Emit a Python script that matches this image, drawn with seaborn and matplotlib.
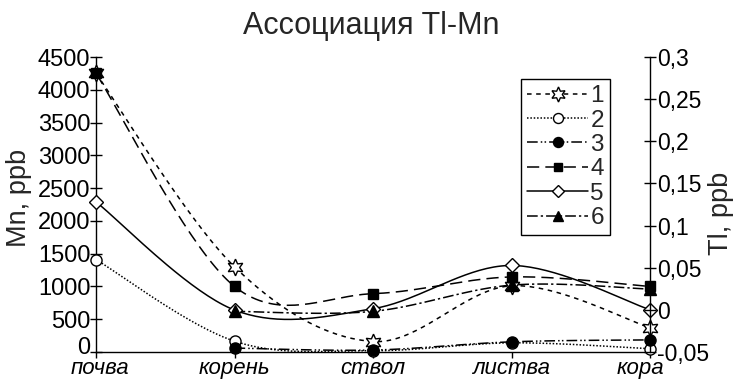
import numpy as np
import matplotlib
matplotlib.use("Agg")
import matplotlib.pyplot as plt
import matplotlib.transforms as mtrans
import seaborn as sns
from matplotlib.lines import Line2D

# ---- data ----
categories = ["почва", "корень", "ствол", "листва", "кора"]
s1 = [4250, 1300, 160, 1010, 370]
s2 = [1410, 165, 20, 140, 50]
s3 = [np.nan, 60, 30, 155, 185]
s4 = [4250, 1000, 890, 1145, 1000]
s5 = [2290, 640, 660, 1320, 645]
s6 = [np.nan, 620, 620, 1020, 960]
series_labels = ["1", "2", "3", "4", "5", "6"]
mn_ticks = [0, 500, 1000, 1500, 2000, 2500, 3000, 3500, 4000, 4500]
tl_ticks = [-0.05, 0, 0.05, 0.1, 0.15, 0.2, 0.25, 0.3]
tl_labels = ["-0,05", "0", "0,05", "0,1", "0,15", "0,2", "0,25", "0,3"]

sns.set_theme(style="ticks")
plt.rcParams['font.family'] = ['Liberation Sans', 'DejaVu Sans']


def smooth(xv, yv, n=40):
    """Excel-like smoothed line (Bezier through points)."""
    xv = np.asarray(xv, float); yv = np.asarray(yv, float)
    m = ~np.isnan(yv)
    xv, yv = xv[m], yv[m]
    P = np.column_stack([xv, yv])
    k = len(P)
    out = []
    t = np.linspace(0, 1, n)[:, None]
    for i in range(k - 1):
        p0 = P[i - 1] if i > 0 else P[i]
        p1 = P[i]
        p2 = P[i + 1]
        p3 = P[i + 2] if i + 2 < k else P[i + 1]
        c1 = p1 + (p2 - p0) / 6.0
        c2 = p2 - (p3 - p1) / 6.0
        seg = ((1 - t) ** 3) * p1 + 3 * ((1 - t) ** 2) * t * c1 + 3 * (1 - t) * t ** 2 * c2 + t ** 3 * p2
        if i > 0:
            seg = seg[1:]
        out.append(seg)
    out = np.vstack(out)
    return out[:, 0], out[:, 1]


W, H = 746, 383
fig = plt.figure(figsize=(W / 100, H / 100), dpi=100)
ax = fig.add_axes([96 / W, 1 - 352 / H, (650 - 96) / W, (352 - 57) / H])
ax.set_facecolor("white")
fig.patch.set_facecolor("white")

xpos = np.arange(len(categories))
styles = [
    dict(ls=(0, (3, 3)), marker=(6, 1, 0), mfc="white", ms=12),
    dict(ls=(0, (1, 1.2)), marker="o", mfc="white", ms=8),
    dict(ls=(0, (7, 2, 1, 1.5, 1, 2)), marker="o", mfc="black", ms=8),
    dict(ls=(0, (8, 4)), marker="s", mfc="black", ms=7),
    dict(ls="-", marker="D", mfc="white", ms=7),
    dict(ls=(0, (7, 2, 1.5, 2)), marker="^", mfc="black", ms=8),
]
data = [s1, s2, s3, s4, s5, s6]
lw = 1.1
for vals, st in zip(data, styles):
    xs, ys = smooth(xpos, vals)
    sns.lineplot(x=xs, y=ys, ax=ax, color="black", linewidth=lw, linestyle=st["ls"],
                 sort=False, estimator=None, errorbar=None)
    ax.plot(xpos, vals, linestyle="none", marker=st["marker"], mfc=st["mfc"],
            mec="black", ms=st["ms"], mew=1.0, zorder=3, clip_on=False)

ax.set_xlim(0, 4)
ax.set_ylim(0, 4500)
ax.set_xticks(xpos)
ax.set_xticklabels(categories, fontsize=16, style="italic")
ax.set_yticks(mn_ticks)
ax.set_yticklabels([str(v) for v in mn_ticks], fontsize=17)
ax.tick_params(axis="y", direction="inout", length=8, width=1, colors="black", pad=0)
ax.tick_params(axis="x", direction="out", length=4, width=1, colors="black", pad=0)
ax.set_xlabel(""); ax.set_ylabel("")
for sp in ["top", "right"]:
    ax.spines[sp].set_visible(False)
for sp in ["left", "bottom"]:
    ax.spines[sp].set_color("black")
    ax.spines[sp].set_linewidth(1)

# nudge edge labels like the reference
xl = ax.get_xticklabels()
xl[-1].set_transform(xl[-1].get_transform() + mtrans.ScaledTranslation(-10 / 100, 0, fig.dpi_scale_trans))
xl[0].set_transform(xl[0].get_transform() + mtrans.ScaledTranslation(4 / 100, 0, fig.dpi_scale_trans))
yl = ax.get_yticklabels()
yl[0].set_transform(yl[0].get_transform() + mtrans.ScaledTranslation(0, 6 / 100, fig.dpi_scale_trans))

ax2 = ax.twinx()
ax2.set_ylim(-0.05, 0.3)
ax2.set_yticks(tl_ticks)
ax2.set_yticklabels(tl_labels, fontsize=16.5)
ax2.tick_params(axis="y", direction="inout", length=8, width=1, colors="black", pad=1)
for sp in ["top", "left", "bottom"]:
    ax2.spines[sp].set_visible(False)
ax2.spines["right"].set_color("black")
ax2.spines["right"].set_linewidth(1)

fig.text(371 / W, 1 - 26 / H, "Ассоциация Tl-Mn", ha="center", va="center", fontsize=22)
fig.text(19 / W, 1 - 198 / H, "Mn, ppb", rotation=90, ha="center", va="center", fontsize=19.5)
fig.text(721 / W, 1 - 213 / H, "Tl, ppb", rotation=90, ha="center", va="center", fontsize=19.5)

handles = []
for st in styles:
    handles.append(Line2D([0], [0], color="black", lw=lw, linestyle=st["ls"], marker=st["marker"],
                          mfc=st["mfc"], mec="black", ms=st["ms"] * 0.9, mew=1.0))
leg = ax2.legend(handles, series_labels, loc="upper right",
                 bbox_to_anchor=(610 / W, 1 - 79 / H), bbox_transform=fig.transFigure,
                 fontsize=17.5, frameon=True, fancybox=False, framealpha=1, edgecolor="black",
                 handlelength=2.5, handletextpad=0.1, labelspacing=0.1, borderpad=0.25,
                 borderaxespad=0)
leg.get_frame().set_linewidth(1)

fig.savefig("out.png", dpi=100, facecolor="white")
